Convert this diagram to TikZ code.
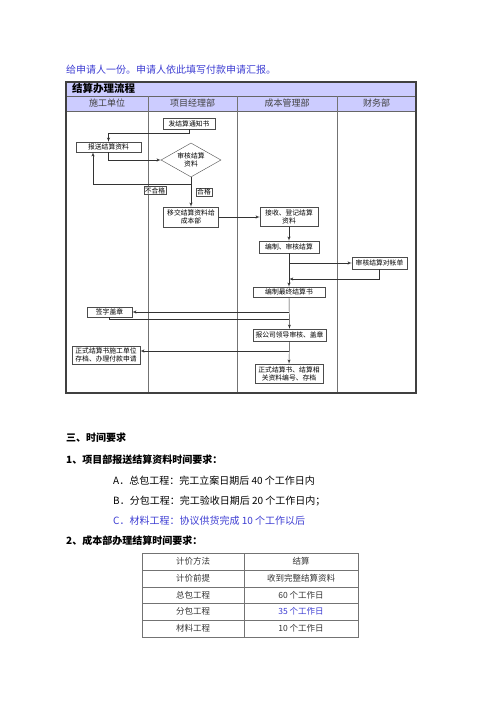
\documentclass[tikz,border=0pt]{standalone}
\usepackage{fontspec}
\setmainfont{Noto Sans CJK SC}
\usepackage{tikz}
\usetikzlibrary{arrows}
\usetikzlibrary{shapes.geometric}
\definecolor{lav}{RGB}{204,204,255}
\definecolor{blu}{RGB}{60,60,210}
\tikzset{box/.style = {draw=black!70, fill=white, inner sep=1pt, align=center,
                       font=\fontsize{6.8}{8}\selectfont}}
\tikzset{tag/.style = {draw=black!70, fill=white, inner sep=1pt, font=\fontsize{6.8}{8}\selectfont}}
\tikzset{flow/.style = {draw=black!80, line width=0.45pt, -latex'}}
\tikzset{link/.style = {draw=black!80, line width=0.45pt}}
\tikzset{body/.style = {anchor=west, inner sep=0, font=\fontsize{10}{12}\selectfont}}
\tikzset{bold/.style = {anchor=west, inner sep=0, font=\bfseries\fontsize{10}{12}\selectfont}}
\tikzset{cell/.style = {inner sep=0, text=black!80, font=\fontsize{8.5}{10}\selectfont}}
\tikzset{head/.style = {inner sep=0, text=black!75, font=\fontsize{9}{10}\selectfont}}

\begin{document}
\begin{tikzpicture}[x=1pt, y=-1pt]
  \useasboundingbox (0,0) rectangle (500,707);
  \node [body, text=blu] (intro) at (66,70) {给申请人一份。申请人依此填写付款申请汇报。};

  % frame of the flow chart
  \fill [lav] (66,82) rectangle (416,111);
  \draw [black!60] (66,96) -- (416,96);
  \draw [black!60] (66,111) -- (416,111);
  \foreach \x in {148,237,337}
    \draw [black!55] (\x,96) -- (\x,393);
  \draw [black!75, line width=1.3pt] (66,82) rectangle (416,393);
  \node [anchor=west, inner sep=0, font=\bfseries\fontsize{10.5}{12}\selectfont] (title) at (72,89) {结算办理流程};
  \node [head] (colA) at (107,103.5) {施工单位};
  \node [head] (colB) at (192.5,103.5) {项目经理部};
  \node [head] (colC) at (287,103.5) {成本管理部};
  \node [head] (colD) at (376.5,103.5) {财务部};

  % steps
  \node [box, minimum width=52, minimum height=11] (notice) at (189,123.5) {发结算通知书};
  \node [box, minimum width=65, minimum height=10] (report) at (108.5,147) {报送结算资料};
  \node [box, diamond, aspect=1.76, minimum width=60, minimum height=34, inner sep=0] (check) at (191,160) {审核结算\\资料};
  \node [box, minimum width=55, minimum height=20] (transfer) at (191,217) {移交结算资料给\\成本部};
  \node [box, minimum width=58, minimum height=19] (receive) at (289,217) {接收、登记结算\\资料};
  \node [box, minimum width=60, minimum height=12] (compile) at (289,247) {编制、审核结算};
  \node [box, minimum width=55, minimum height=12] (recon) at (379.5,263) {审核结算对帐单};
  \node [box, minimum width=72, minimum height=10] (final) at (289,292) {编制最终结算书};
  \node [box, minimum width=45, minimum height=10] (sign) at (109.5,312) {签字盖章};
  \node [box, minimum width=73, minimum height=12] (leader) at (289.5,335) {报公司领导审核、盖章};
  \node [box, minimum width=68, minimum height=18] (applicant) at (106,355) {正式结算书施工单位\\存档、办理付款申请};
  \node [box, minimum width=68, minimum height=19] (archive) at (289,373.5) {正式结算书、结算相\\关资料编号、存档};
  \node [tag] (fail) at (155,190.5) {不合格};
  \node [tag] (pass) at (204,192) {合格};

  % connectors
  \coordinate (back) at (93,184);
  \coordinate (split1) at (289,263);
  \coordinate (merge1) at (289,279);
  \coordinate (split2) at (289,312);
  \coordinate (merge2) at (289,319);
  \coordinate (split3) at (289,351);
  \draw [flow] (notice.south) -- ++(0,4) -| (report.north);
  \draw [flow] (report.south) |- (check.west);
  \draw [flow] (check.south) -- (transfer.north);
  \draw [flow] (back -| check.south) -- (back) -- (back |- report.south);
  \draw [flow] (transfer.east) -- (receive.west);
  \draw [flow] (receive.south) -- (compile.north);
  \draw [flow] (compile.south) -- (final.north);
  \draw [flow] (split1) -- (recon.west);
  \draw [flow] (recon.south) |- (merge1);
  \draw [flow] (final.south) -- (leader.north);
  \draw [flow] (split2) -- (sign.east);
  \draw [link] (sign.south) |- (merge2);
  \draw [flow] (leader.south) -- (archive.north);
  \draw [flow] (split3) -- (split3 -| applicant.east);

  % time requirements
  \node [bold] (sec) at (66,438) {三、时间要求};
  \node [bold] (req1) at (66,460) {1、项目部报送结算资料时间要求：};
  \node [body] (itemA) at (113,481) {A．总包工程：完工立案日期后 40 个工作日内};
  \node [body] (itemB) at (113,501) {B．分包工程：完工验收日期后 20 个工作日内；};
  \node [body, text=blu] (itemC) at (113,521) {C．材料工程：协议供货完成 10 个工作以后};
  \node [bold] (req2) at (66,541) {2、成本部办理结算时间要求：};

  % table
  \draw [black!55] (142,553) rectangle (358,637);
  \foreach \y in {570,587,603,620}
    \draw [black!55] (142,\y) -- (358,\y);
  \draw [black!55] (244,553) -- (244,637);
  \node [cell] (m1) at (193,561.5) {计价方法};
  \node [cell] (v1) at (301,561.5) {结算};
  \node [cell] (m2) at (193,578.5) {计价前提};
  \node [cell] (v2) at (301,578.5) {收到完整结算资料};
  \node [cell] (m3) at (193,595) {总包工程};
  \node [cell] (v3) at (301,595) {60 个工作日};
  \node [cell] (m4) at (193,611.5) {分包工程};
  \node [cell, text=blu] (v4) at (301,611.5) {35 个工作日};
  \node [cell] (m5) at (193,628.5) {材料工程};
  \node [cell] (v5) at (301,628.5) {10 个工作日};
\end{tikzpicture}
\end{document}
